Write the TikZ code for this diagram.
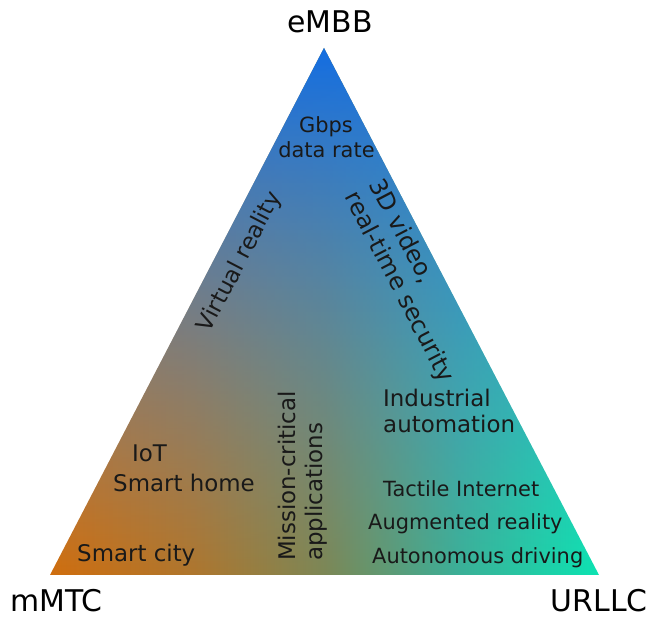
\documentclass[tikz,border=0pt]{standalone}
\usepackage{fontspec}
\setmainfont{DejaVu Sans}
\usetikzlibrary{fadings}
\definecolor{topblue}{RGB}{20,110,225}
\definecolor{midblue}{RGB}{100,155,215}
\definecolor{leftorange}{RGB}{208,110,14}
\definecolor{brownmix}{RGB}{175,118,45}
\definecolor{olivemix}{RGB}{125,135,85}
\definecolor{tealmix}{RGB}{60,175,150}
\definecolor{rightcyan}{RGB}{12,228,178}
\pgfdeclarehorizontalshading{basebottom}{100bp}{color(0bp)=(leftorange); color(25bp)=(leftorange); color(38bp)=(brownmix); color(50bp)=(olivemix); color(62bp)=(tealmix); color(75bp)=(rightcyan); color(100bp)=(rightcyan)}
\tikzfading[name=bluefade, top color=transparent!0, middle color=transparent!25, bottom color=transparent!100]
\begin{document}
\begin{tikzpicture}[x=1bp,y=1bp,
  corner/.style={font=\fontsize{30}{34}\selectfont, inner sep=0pt, text=black},
  lbl/.style={font=\fontsize{23}{27}\selectfont, inner sep=0pt, text=black!90},
  vlbl/.style={font=\fontsize{24}{28}\selectfont, inner sep=0pt, text=black!90},
  slbl/.style={font=\fontsize{21}{25}\selectfont, inner sep=0pt, text=black!90}]
\useasboundingbox (0,0) rectangle (652,618);
\coordinate (A) at (324,570);
\coordinate (L) at (50,43);
\coordinate (R) at (599,43);
\shade[shading=basebottom] (A) -- (L) -- (R) -- cycle;
\shade[top color=topblue, bottom color=midblue, path fading=bluefade] (A) -- (L) -- (R) -- cycle;
% corner labels
\node[corner, anchor=base] (embb) at (330,585) {eMBB};
\node[corner, anchor=base west] (mmtc) at (10,6) {mMTC};
\node[corner, anchor=base east] (urllc) at (648,6) {URLLC};
% inner labels
\node[slbl, anchor=base] (gbps) at (326,485) {Gbps};
\node[slbl, anchor=base] (rate) at (326.5,460) {data rate};
\node[lbl, rotate=62.5] (vr) at (240,356) {Virtual reality};
\node[vlbl, rotate=-62.5, align=left] (video) at (411,337) {3D video,\\real-time security};
\node[lbl, rotate=90, align=left] (mission) at (303,142) {Mission-critical\\applications};
\node[lbl, anchor=base west] (iot) at (132,156) {IoT};
\node[lbl, anchor=base west] (home) at (113,126) {Smart home};
\node[lbl, anchor=base west] (city) at (77,56) {Smart city};
\node[lbl, anchor=base west] (indus) at (383,211) {Industrial};
\node[lbl, anchor=base west] (auto) at (383,185) {automation};
\node[slbl, anchor=base west] (tactile) at (383,121) {Tactile Internet};
\node[slbl, anchor=base west] (ar) at (368,88) {Augmented reality};
\node[slbl, anchor=base west] (drive) at (372,54) {Autonomous driving};
\end{tikzpicture}
\end{document}
